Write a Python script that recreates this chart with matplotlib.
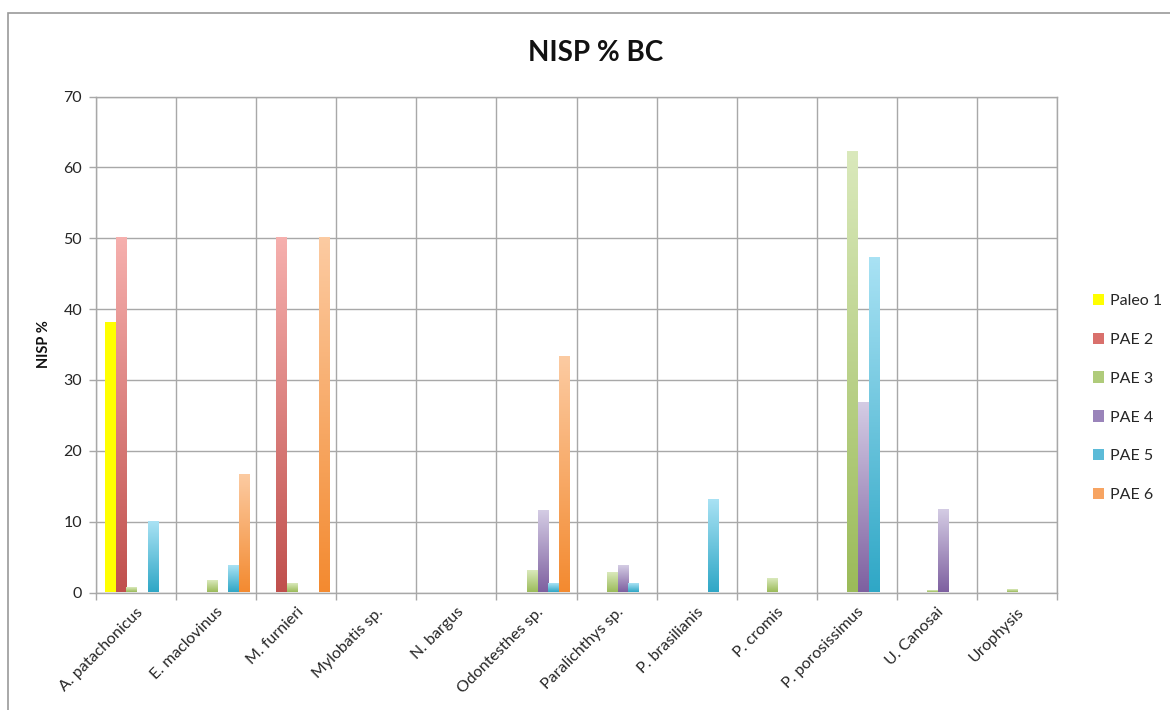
import numpy as np
import matplotlib
matplotlib.use("Agg")
import matplotlib.pyplot as plt
from matplotlib.colors import LinearSegmentedColormap
from matplotlib.patches import Patch, Rectangle

plt.rcParams['font.family'] = ['Lato', 'DejaVu Sans']

categories = ["A. patachonicus", "E. maclovinus", "M. furnieri", "Mylobatis sp.",
              "N. bargus", "Odontesthes sp.", "Paralichthys sp.", "P. brasilianis",
              "P. cromis", "P. porosissimus", "U. Canosai", "Urophysis"]
series_names = ["Paleo 1", "PAE 2", "PAE 3", "PAE 4", "PAE 5", "PAE 6"]

paleo1 = [38, 0, 0, 0, 0, 0, 0, 0, 0, 0, 0, 0]
pae2 = [50, 0, 50, 0, 0, 0, 0, 0, 0, 0, 0, 0]
pae3 = [0.6, 1.6, 1.2, 0, 0, 3.0, 2.8, 0, 1.9, 62.1, 0.2, 0.3]
pae4 = [0, 0, 0, 0, 0, 11.5, 3.8, 0, 0, 26.8, 11.6, 0]
pae5 = [10, 3.8, 0, 0, 0, 1.2, 1.2, 13.0, 0, 47.2, 0, 0]
pae6 = [0, 16.6, 50, 0, 0, 33.3, 0, 0, 0, 0, 0, 0]
series = [paleo1, pae2, pae3, pae4, pae5, pae6]

# (bottom colour, top colour) for each series' vertical gradient
gradients = [("#FFFF00", "#FFFF00"),
             ("#C0504D", "#F6B0AE"),
             ("#9BBB59", "#DAE9BC"),
             ("#7E60A0", "#D4CCE4"),
             ("#2FA7C6", "#A9E2F4"),
             ("#F38A30", "#FCCBA2")]
legend_colors = ["#FFFF00", "#D9706C", "#AFCB7A", "#9A84BA", "#5CBBD8", "#F7A462"]

grid_col = "#A8A8A8"
text_col = "#262626"

fig = plt.figure(figsize=(11.7, 7.1), dpi=100)
ax = fig.add_axes([96 / 1170, 1 - 592.5 / 710, 961 / 1170, (592.5 - 96.5) / 710])

# chart area border
fig.patches.append(Rectangle((7.5 / 1170, -0.1), 1.2, 1 - 13 / 710 + 0.1,
                             transform=fig.transFigure, fill=False,
                             edgecolor="#9A9A9A", linewidth=1.2))

x = np.arange(len(categories))
bw = 0.134
offset0 = -0.5 + 0.112 + bw / 2

for j, vals in enumerate(series):
    bars = ax.bar(x + offset0 + j * bw, vals, width=bw, color="none",
                  edgecolor="none", zorder=2)
    cmap = LinearSegmentedColormap.from_list(f"g{j}", gradients[j])
    grad = np.linspace(0, 1, 256).reshape(-1, 1)
    for rect in bars:
        h = rect.get_height()
        if h <= 0:
            continue
        x0 = rect.get_x()
        ax.imshow(grad, cmap=cmap, origin="lower", aspect="auto",
                  extent=(x0, x0 + rect.get_width(), 0, h), zorder=2)

ax.set_xlim(-0.5, len(categories) - 0.5)
ax.set_ylim(0, 70)

ax.set_yticks(np.arange(0, 71, 10))
ax.set_xticks(x)
ax.set_xticklabels(categories, rotation=45, ha="right", rotation_mode="anchor",
                   fontsize=11.5, color=text_col)
ax.set_xticks(np.arange(-0.5, len(categories), 1), minor=True)
ax.tick_params(axis="x", which="major", length=0, pad=9)
ax.tick_params(axis="x", which="minor", length=5, color=grid_col, width=1)
ax.tick_params(axis="y", length=5, color=grid_col, width=1, labelsize=11.5,
               labelcolor=text_col, pad=5)

ax.grid(True, axis="y", color=grid_col, linewidth=1, zorder=0)
ax.grid(True, axis="x", which="minor", color=grid_col, linewidth=1, zorder=0)
ax.set_axisbelow(True)
for s in ax.spines.values():
    s.set_color(grid_col)
    s.set_linewidth(1)

ax.set_ylabel("NISP %", fontsize=10.5, fontweight="bold", labelpad=9,
              color="#111111")
fig.text(595.5 / 1170, 1 - 53 / 710, "NISP % BC", ha="center", va="center",
         fontsize=20, fontweight="bold", color="#111111")

handles = [Patch(facecolor=c, edgecolor="none") for c in legend_colors]
fig.legend(handles, series_names, loc="center left",
           bbox_to_anchor=(1085 / 1170, 1 - 398 / 710), frameon=False,
           fontsize=11.5, handlelength=0.7, handleheight=0.7,
           handletextpad=0.35, labelspacing=1.55, borderpad=0,
           labelcolor=text_col)

fig.savefig("out.png", dpi=100)
